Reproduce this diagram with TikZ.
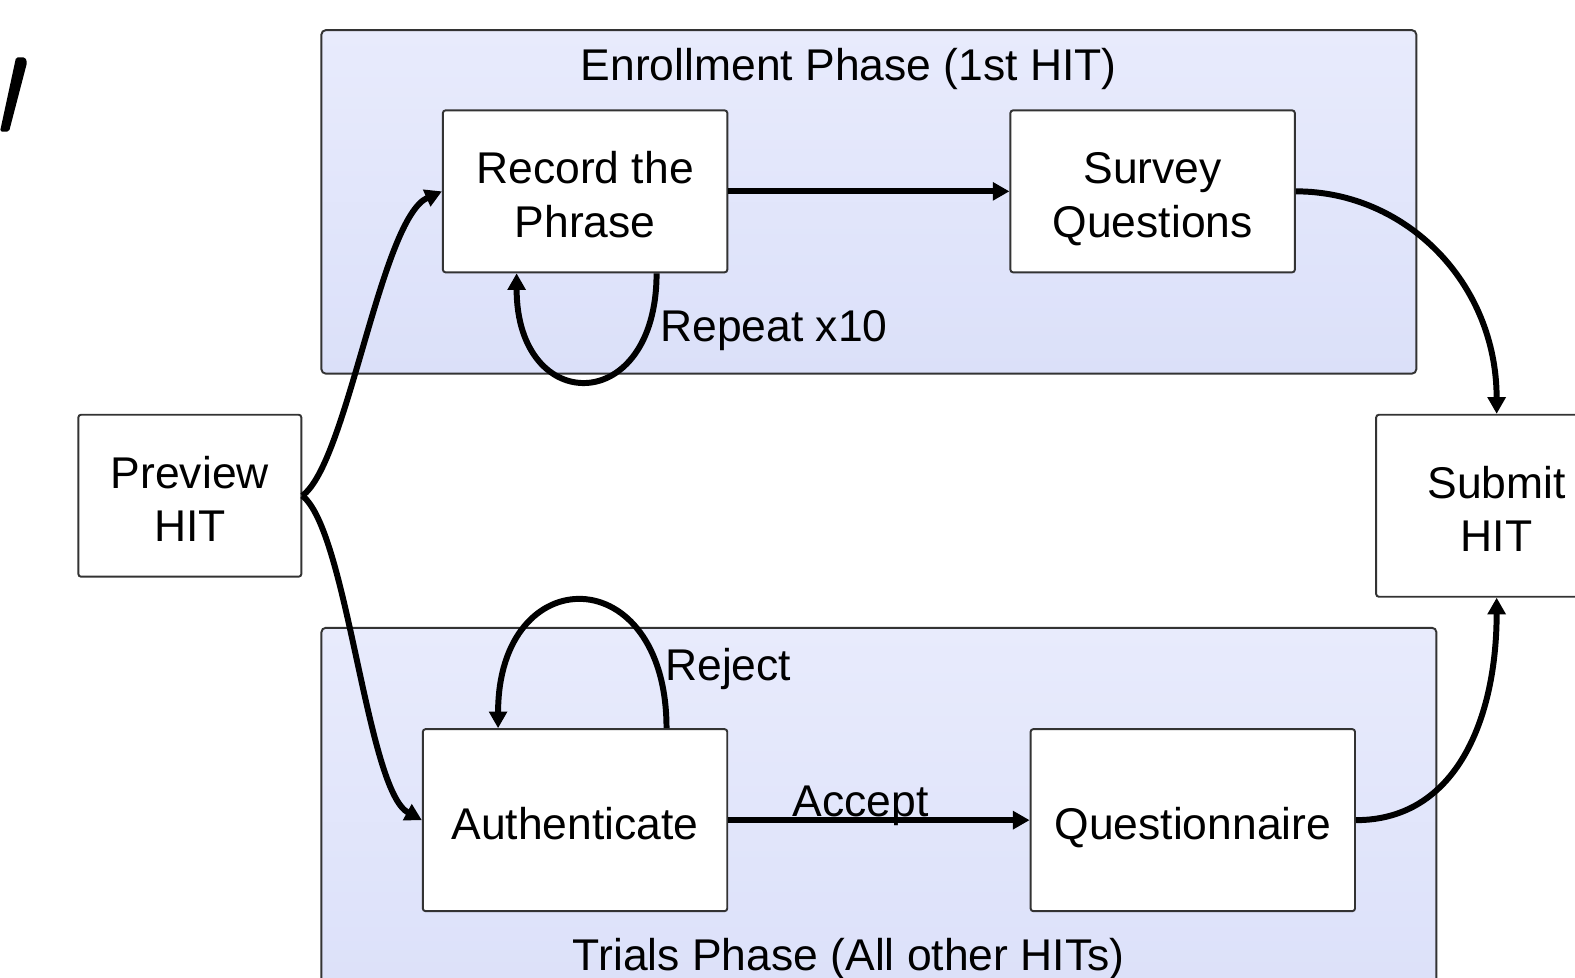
\documentclass[tikz,border=0pt]{standalone}
\usepackage{fontspec}
\setmainfont{Liberation Sans}
\usetikzlibrary{arrows.meta, positioning}
\definecolor{phasetop}{RGB}{232, 235, 252}
\definecolor{phasebottom}{RGB}{219, 224, 249}
\definecolor{edgegray}{RGB}{51, 51, 51}

\tikzset{
    taskbox/.style={draw=edgegray, line width=1.1pt, fill=white, rounded corners=1.5pt, align=center, inner sep=0pt, text height=22pt, text depth=0pt},
    twoline/.style={text height=52.5pt},
    phase/.style={draw=edgegray, line width=1.1pt, top color=phasetop, bottom color=phasebottom, rounded corners=2.5pt},
    flow/.style={line width=3.4pt, -{Triangle[length=9.5pt, width=10pt]}},
    lbl/.style={anchor=base west, inner sep=0pt}
}

\begin{document}
\begin{tikzpicture}[x=0.0201cm, y=-0.0201cm, font=\fontsize{25.3}{30.5}\selectfont]
    \useasboundingbox (0,0) rectangle (1568,973);
    \clip (0,0) rectangle (1568,973);

    % stroke left over at the top left corner
    \fill[rounded corners=1pt] (0,131) -- (9,131) -- (27,62) -- (25,57) -- (16,57) -- cycle;

    % the two phases
    \draw[phase] (320,30) rectangle (1410,372);
    \draw[phase] (320,625) rectangle (1430,1010);
    \node[anchor=base, inner sep=0pt] (enrolltitle) at (845,80) {Enrollment Phase (1st HIT)};
    \node[anchor=base, inner sep=0pt] (trialstitle) at (845,966) {Trials Phase (All other HITs)};

    \node[taskbox, twoline, minimum width=4.46cm, minimum height=3.24cm] (preview) at (189,493.5) {Preview\\HIT};
    \node[taskbox, twoline, minimum width=5.69cm, minimum height=3.24cm] (record) at (582.5,190.5) {Record the\\Phrase};
    \node[taskbox, twoline, minimum width=5.69cm, minimum height=3.24cm] (survey) at (1147.5,190.5) {Survey\\Questions};
    \node[taskbox, twoline, minimum width=4.82cm, minimum height=3.64cm] (submit) at (1490,503.5) {Submit\\HIT};
    \node[taskbox, minimum width=6.09cm, minimum height=3.64cm] (auth) at (572.5,816.5) {Authenticate};
    \node[taskbox, minimum width=6.49cm, minimum height=3.64cm] (quest) at (1187.5,816.5) {Questionnaire};

    \node[lbl] (repeat) at (657,340) {Repeat x10};
    \node[lbl] (reject) at (662,677) {Reject};
    \node[anchor=base, inner sep=0pt] (accept) at (857,813) {Accept};

    % connectors
    \draw[flow] (preview.east) .. controls +(45,-32) and +(-61,27) .. (record.west);
    \draw[flow] (preview.east) .. controls +(45,35) and +(-55,-30) .. (auth.west);
    \draw[flow] (record) -- (survey);
    \draw[flow] ([xshift=1.43cm]record.south) .. controls +(0,143) and +(0,143) .. ([xshift=-1.37cm]record.south);
    \draw[flow] ([xshift=1.83cm]auth.north) .. controls +(0,-169) and +(0,-169) .. ([xshift=-1.54cm]auth.north);
    \draw[flow] (auth) -- (quest);
    \draw[flow] (survey.east) .. controls +(110,0) and +(0,-130) .. (submit.north);
    \draw[flow] (quest.east) .. controls +(100,0) and +(0,120) .. (submit.south);
\end{tikzpicture}
\end{document}
